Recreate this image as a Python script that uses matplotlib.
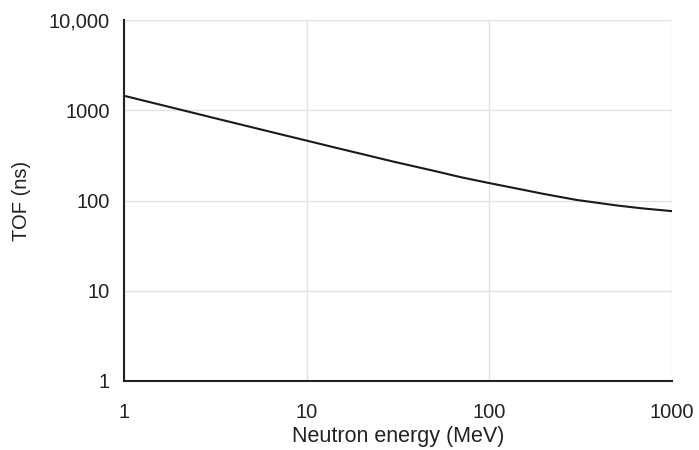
import matplotlib
matplotlib.use("Agg")
import matplotlib.pyplot as plt
from matplotlib.ticker import FixedLocator, FixedFormatter, NullLocator

# Neutron energy (MeV) and time of flight (ns)
energy_mev = [1, 1.5, 2, 3, 5, 7, 10, 15, 20, 30, 50, 70, 100, 150, 200, 300, 500, 700, 1000]
tof_ns = [1447, 1182, 1024, 836, 649, 549, 461, 377, 328, 269, 212.6, 181, 155.9, 132.5, 117.9, 101.5, 88.05, 81.5, 76.25]

x_ticks = [1, 10, 100, 1000]
x_labels = ["1", "10", "100", "1000"]
y_ticks = [1, 10, 100, 1000, 10000]
y_labels = ["1", "10", "100", "1000", "10,000"]

plt.rcParams['font.family'] = ['Liberation Sans', 'DejaVu Sans']

fig = plt.figure(figsize=(6.99, 4.5), dpi=100)
ax = fig.add_axes([124 / 699, 1 - 381 / 450, (672 - 124) / 699, (381 - 20) / 450])

ax.plot(energy_mev, tof_ns, color="#1a1a1a", linewidth=1.5)

ax.set_xscale("log")
ax.set_yscale("log")
ax.set_xlim(1, 1000)
ax.set_ylim(1, 10000)

ax.xaxis.set_major_locator(FixedLocator(x_ticks))
ax.xaxis.set_major_formatter(FixedFormatter(x_labels))
ax.xaxis.set_minor_locator(NullLocator())
ax.yaxis.set_major_locator(FixedLocator(y_ticks))
ax.yaxis.set_major_formatter(FixedFormatter(y_labels))
ax.yaxis.set_minor_locator(NullLocator())

ax.grid(True, color="#e3e3e3", linewidth=1)
ax.set_axisbelow(True)
ax.tick_params(length=0, labelsize=14.5, colors="#222222")
ax.tick_params(axis="x", pad=16)
ax.tick_params(axis="y", pad=10)

for side in ["top", "right"]:
    ax.spines[side].set_visible(False)
for side in ["left", "bottom"]:
    ax.spines[side].set_color("#222222")
    ax.spines[side].set_linewidth(1.5)

ax.set_xlabel("Neutron energy (MeV)", fontsize=15.5, color="#222222", labelpad=3)
ax.set_ylabel("TOF (ns)", fontsize=14.5, color="#222222", labelpad=13)

fig.savefig("out.png", dpi=100)
